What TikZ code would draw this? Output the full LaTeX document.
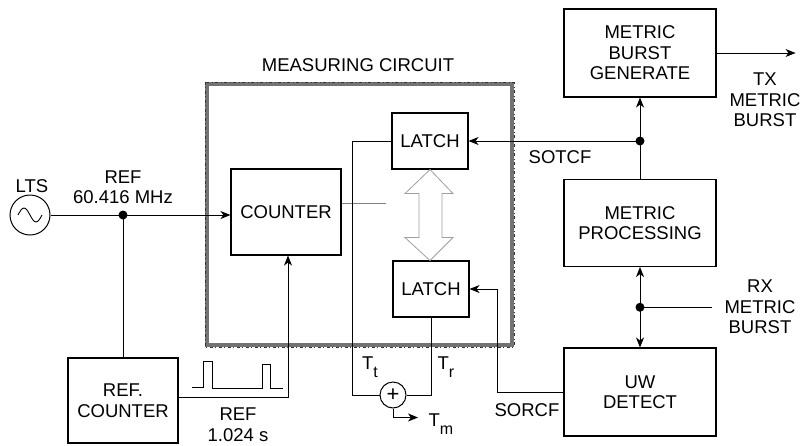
\documentclass[tikz,border=0pt]{standalone}
\usepackage{fontspec}
\setmainfont{Liberation Sans}
\usetikzlibrary{arrows.meta, positioning, backgrounds, calc}
\newcommand{\lowsub}[1]{\raisebox{-0.8ex}{\fontsize{16}{16}\selectfont #1}}

\begin{document}
\begin{tikzpicture}[
    x=1pt, y=-1pt,
    font=\fontsize{18.5}{20.5}\selectfont,
    box/.style={
        rectangle, draw=black, line width=1.1pt,
        inner sep=0pt, align=center, fill=white
    },
    cnt/.style={box, minimum width=110pt},
    ltc/.style={box, minimum width=76pt, minimum height=56pt},
    blk/.style={box, minimum width=152pt},
    wire/.style={line width=0.9pt},
    arr/.style={wire, -{Stealth[length=10pt, width=8pt, inset=3pt]}},
    biarr/.style={wire, {Stealth[length=10pt, width=8pt, inset=3pt]}-{Stealth[length=10pt, width=8pt, inset=3pt]}},
    dot/.style={circle, fill=black, inner sep=0pt, minimum size=9pt},
    lbl/.style={align=center, inner sep=0pt},
    zone/.style={rectangle, draw=black!55, line width=3.8pt, inner sep=0pt},
]
\useasboundingbox (0,0) rectangle (800,445);

%% ---- MEASURING CIRCUIT ZONE ----
\node[zone, minimum width=305pt, minimum height=261pt] (meas) at (359.5,214.5) {};
\draw[black!80, line width=0.6pt, dash pattern=on 3pt off 2pt on 1pt off 3pt]
    (meas.north west) rectangle (meas.south east);
\node[lbl] (meastitle) at (358,65) {MEASURING CIRCUIT};

%% ---- SOURCE ----
\node[circle, draw, line width=1pt, minimum size=40pt, inner sep=0pt] (lts) at (30,215) {};
\draw[wire] ([xshift=-12pt]lts.center) sin ++(6,-7) cos ++(6,7) sin ++(6,7) cos ++(6,-7);
\node[lbl] (ltslbl) at (32,186) {LTS};

%% ---- BLOCKS ----
\node[cnt, minimum height=86pt] (counter) at (286,212) {COUNTER};
\node[ltc] (latchT) at (430,141) {LATCH};
\node[ltc] (latchB) at (431,289) {LATCH};
\node[cnt, minimum height=85pt] (refcnt) at (123,400.5) {REF.\\COUNTER};
\node[blk, minimum height=88pt] (mbg)   at (640,53)  {METRIC\\BURST\\GENERATE};
\node[blk, minimum height=87pt] (mproc) at (640,223) {METRIC\\PROCESSING};
\node[blk, minimum height=88pt] (uw)    at (640,392) {UW\\DETECT};
\node[circle, draw, line width=1pt, minimum size=26pt, inner sep=0pt] (adder) at (393,395)
    {\fontsize{22}{22}\selectfont +};

%% ---- JUNCTIONS ----
\coordinate (jref) at (refcnt.north |- lts.east);
\coordinate (jsot) at (mproc.north |- latchT.east);
\coordinate (jrx)  at ($(mproc.south)!0.5!(uw.north)$);

%% ---- REFERENCE PATH ----
\draw[arr] (lts.east) -- (lts.east -| counter.west);
\draw[wire] (jref) -- (refcnt.north);
\node[dot] at (jref) {};
\draw[arr] ([yshift=3pt]refcnt.east) -| ([xshift=2pt]counter.south);
\draw[wire] (192,387) -- (203,387) -- (203,361) -- (212,361) -- (212,388)
    -- (262,388) -- (262,364) -- (270,364) -- (270,388) -- (283,388);

%% ---- INSIDE MEASURING CIRCUIT ----
\draw[wire, gray] ([yshift=9pt]counter.east) -- ++(44,0);
\draw[gray!75, line width=0.8pt] (latchT.south) -- ++(23,24) -- ++(-11,0) -- ++(0,44)
    -- ++(11,0) -- ++(-23,23) -- ++(-25,-23) -- ++(14,0) -- ++(0,-44) -- ++(-14,0) -- cycle;
\draw[wire] (latchT.west) -- ++(-39,0) |- (adder.west);
\draw[wire] (latchB.south) |- (adder.east);
\draw[arr] (adder.south) |- ++(25,9);

%% ---- METRIC SIDE ----
\draw[arr] (mproc.north) -- (mbg.south);
\draw[arr] (jsot) -- (latchT.east);
\node[dot] at (jsot) {};
\draw[arr] (mbg.east) -- ++(79,0);
\draw[biarr] (mproc.south) -- (uw.north);
\draw[wire] (jrx) -- ++(72,0);
\node[dot] at (jrx) {};
\draw[arr] (uw.west) -- ++(-66,0) |- (latchB.east);

%% ---- LABELS ----
\node[lbl] (reflbl)  at (123,187)   {REF\\60.416 MHz};
\node[lbl] (seclbl)  at (238,424.5) {REF\\1.024 s};
\node[lbl] (sotlbl)  at (560,157)   {SOTCF};
\node[lbl] (sorlbl)  at (527,410)   {SORCF};
\node[lbl] (txlbl)   at (765,100)   {TX\\METRIC\\BURST};
\node[lbl] (rxlbl)   at (760,307)   {RX\\METRIC\\BURST};
\node[lbl] (ttlbl)   at (370,367)   {T\lowsub{t}};
\node[lbl] (trlbl)   at (446,367)   {T\lowsub{r}};
\node[lbl] (tmlbl)   at (441,424)   {T\lowsub{m}};

\end{tikzpicture}
\end{document}
